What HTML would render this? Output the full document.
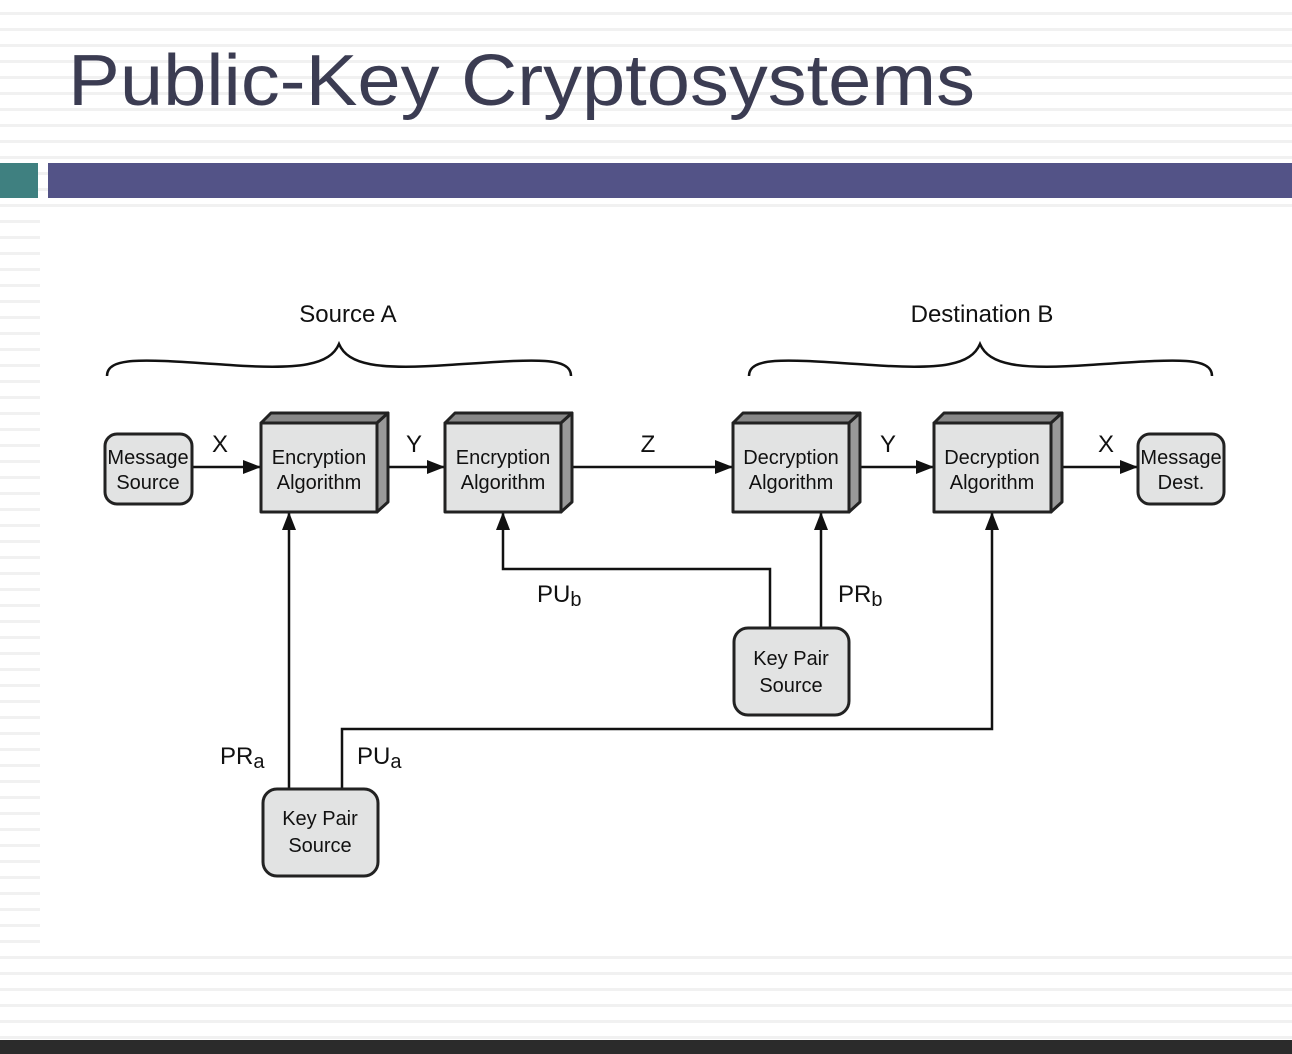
<!DOCTYPE html>
<html><head><style>
html,body{margin:0;padding:0;}
body{width:1292px;height:1054px;overflow:hidden;background:#fff;}
svg{display:block;}
text{font-family:"Liberation Sans","DejaVu Sans",sans-serif;fill:#111;}
</style></head><body>
<svg width="1292" height="1054" viewBox="0 0 1292 1054" xmlns="http://www.w3.org/2000/svg">
<defs>
<pattern id="st" width="8" height="16" patternUnits="userSpaceOnUse">
<rect width="8" height="16" fill="#fff"/><rect y="12" width="8" height="3" fill="#f1f1f1"/>
</pattern>
<marker id="ar" markerWidth="18" markerHeight="14" refX="17" refY="7" orient="auto" markerUnits="userSpaceOnUse">
<path d="M0,0 L18,7 L0,14 z" fill="#111"/>
</marker>
</defs>
<rect width="1292" height="1054" fill="url(#st)"/>
<rect x="40" y="210" width="1252" height="740" fill="#fff"/>
<rect x="0" y="0" width="1292" height="150" fill="url(#st)" opacity="0.8"/>
<text x="68" y="105" font-size="72" style="fill:#3b3c52" textLength="907" lengthAdjust="spacingAndGlyphs">Public-Key Cryptosystems</text>
<rect x="0" y="163" width="38" height="35" fill="#3f8080"/>
<rect x="48" y="163" width="1244" height="35" fill="#535387"/>
<rect x="0" y="1040" width="1292" height="14" fill="#2b2b2b"/>

<g font-size="24" text-anchor="middle">
<text x="348" y="322">Source A</text>
<text x="982" y="322">Destination B</text>
</g>
<g fill="none" stroke="#111" stroke-width="2.5">
<path d="M107,376 C107,355 150,360 230,365 C300,370 330,365 339,344 C348,365 378,370 448,365 C528,360 571,355 571,376"/>
<path d="M749,376 C749,355 792,360 872,365 C942,370 971,365 980,344 C989,365 1019,370 1089,365 C1169,360 1212,355 1212,376"/>
</g>

<g stroke="#111" stroke-width="2.5" fill="none">
<line x1="192" y1="467" x2="260" y2="467" marker-end="url(#ar)"/>
<line x1="388" y1="467" x2="444" y2="467" marker-end="url(#ar)"/>
<line x1="572" y1="467" x2="732" y2="467" marker-end="url(#ar)"/>
<line x1="860" y1="467" x2="933" y2="467" marker-end="url(#ar)"/>
<line x1="1062" y1="467" x2="1137" y2="467" marker-end="url(#ar)"/>
<line x1="289" y1="789" x2="289" y2="513" marker-end="url(#ar)"/>
<polyline points="342,789 342,729 992,729 992,513" marker-end="url(#ar)"/>
<polyline points="770,628 770,569 503,569 503,513" marker-end="url(#ar)"/>
<line x1="821" y1="628" x2="821" y2="513" marker-end="url(#ar)"/>
</g>

<g stroke="#222" stroke-width="3">
<rect x="105" y="434" width="87" height="70" rx="12" fill="#e2e3e3"/>
<rect x="1138" y="434" width="86" height="70" rx="12" fill="#e2e3e3"/>
<rect x="734" y="628" width="115" height="87" rx="14" fill="#e2e3e3"/>
<rect x="263" y="789" width="115" height="87" rx="14" fill="#e2e3e3"/>
</g>

<g stroke="#222" stroke-width="3" stroke-linejoin="round">
<g>
<path d="M261,423 L271,413 L388,413 L377,423 z" fill="#888"/>
<path d="M377,423 L388,413 L388,502 L377,512 z" fill="#999"/>
<rect x="261" y="423" width="116" height="89" fill="#e2e3e3"/>
</g>
<g>
<path d="M445,423 L455,413 L572,413 L561,423 z" fill="#888"/>
<path d="M561,423 L572,413 L572,502 L561,512 z" fill="#999"/>
<rect x="445" y="423" width="116" height="89" fill="#e2e3e3"/>
</g>
<g>
<path d="M733,423 L743,413 L860,413 L849,423 z" fill="#888"/>
<path d="M849,423 L860,413 L860,502 L849,512 z" fill="#999"/>
<rect x="733" y="423" width="116" height="89" fill="#e2e3e3"/>
</g>
<g>
<path d="M934,423 L944,413 L1062,413 L1051,423 z" fill="#888"/>
<path d="M1051,423 L1062,413 L1062,502 L1051,512 z" fill="#999"/>
<rect x="934" y="423" width="117" height="89" fill="#e2e3e3"/>
</g>
</g>

<g font-size="20" text-anchor="middle">
<text x="148" y="464">Message</text><text x="148" y="489">Source</text>
<text x="319" y="464">Encryption</text><text x="319" y="489">Algorithm</text>
<text x="503" y="464">Encryption</text><text x="503" y="489">Algorithm</text>
<text x="791" y="464">Decryption</text><text x="791" y="489">Algorithm</text>
<text x="992" y="464">Decryption</text><text x="992" y="489">Algorithm</text>
<text x="1181" y="464">Message</text><text x="1181" y="489">Dest.</text>
<text x="791" y="665">Key Pair</text><text x="791" y="692">Source</text>
<text x="320" y="825">Key Pair</text><text x="320" y="852">Source</text>
</g>
<g font-size="24" text-anchor="middle">
<text x="220" y="452">X</text>
<text x="414" y="452">Y</text>
<text x="648" y="452">Z</text>
<text x="888" y="452">Y</text>
<text x="1106" y="452">X</text>
</g>
<g font-size="24">
<text x="537" y="602">PU<tspan font-size="20" dy="4">b</tspan></text>
<text x="838" y="602">PR<tspan font-size="20" dy="4">b</tspan></text>
<text x="220" y="764">PR<tspan font-size="20" dy="4">a</tspan></text>
<text x="357" y="764">PU<tspan font-size="20" dy="4">a</tspan></text>
</g>
</svg>
</body></html>
